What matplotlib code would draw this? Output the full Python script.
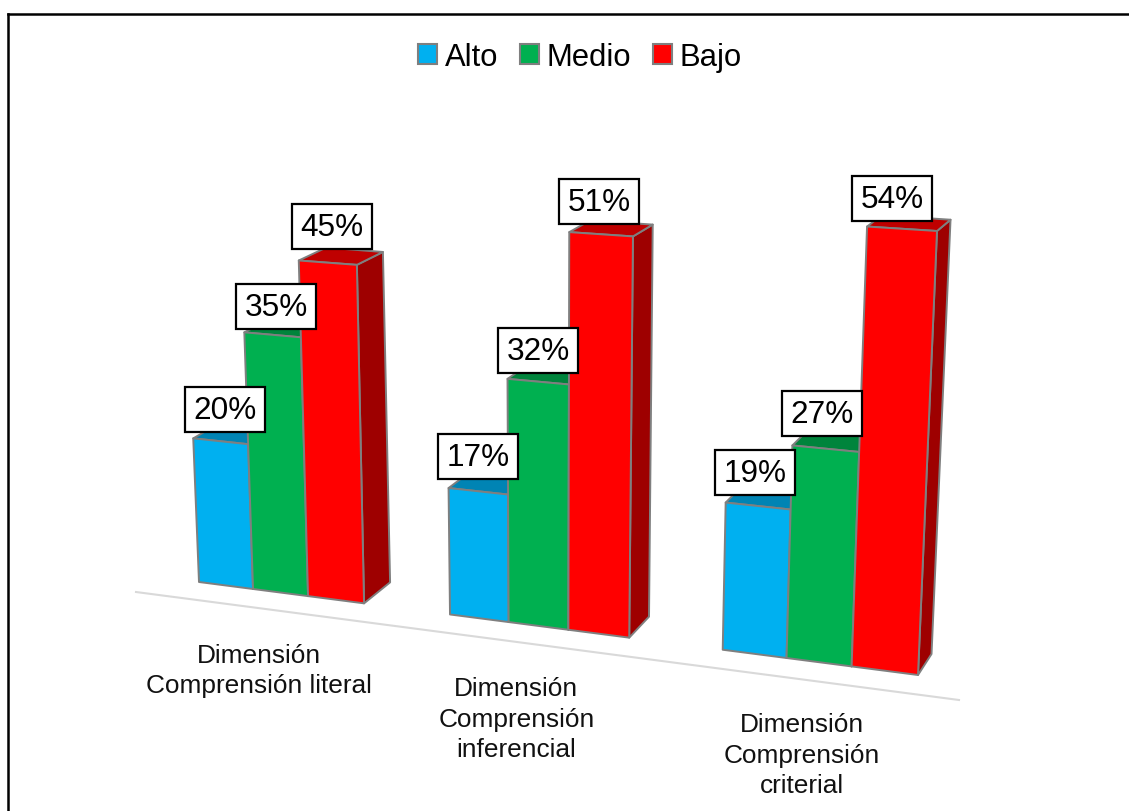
import matplotlib
matplotlib.use("Agg")
import matplotlib.pyplot as plt
from matplotlib.patches import Patch, Polygon, Rectangle
import numpy as np

categories = [
    "Dimensión\nComprensión literal",
    "Dimensión\nComprensión\ninferencial",
    "Dimensión\nComprensión\ncriterial",
]
series_names = ["Alto", "Medio", "Bajo"]
alto = [20, 17, 19]
medio = [35, 32, 27]
bajo = [45, 51, 54]

front_colors = ["#00B0F0", "#00B050", "#FF0000"]
top_colors = ["#0084B4", "#00843C", "#BF0000"]
side_colors = ["#005A7A", "#005A28", "#9E0000"]
edge_color = "#7F7F7F"

W, H = 1129, 812
group_start = [0, 4.5, 9]  # bar width is 1, gap between groups 1.5
label_dx = [[4, 4, 4], [0, 0, -2], [-3, -4, -10]]
label_dy = [[-32, -28, -36], [-35, -31, -33], [-34, -35, -30]]
cat_dx = [-21, -22, -17]

# front plane (u, value) -> pixels, fixed by the four corners of the bar block
plane = [(0, 0), (12, 0), (12, 54), (0, 54)]
pixels = [(199, 583), (918, 676), (937, 232), (183, 184)]


def fit_homography(src, dst):
    A, b = [], []
    for (u, v), (x, y) in zip(src, dst):
        A.append([u, v, 1, 0, 0, 0, -u * x, -v * x])
        A.append([0, 0, 0, u, v, 1, -u * y, -v * y])
        b += [x, y]
    return np.append(np.linalg.solve(np.array(A, float), np.array(b, float)), 1).reshape(3, 3)


M = fit_homography(plane, pixels)


def project(u, v, d=0):
    p = M @ np.array([u, v, 1.0])
    x, y = p[0] / p[2], p[1] / p[2]
    # depth of the bars, the side faces get narrower to the right
    return x + d * (30.2 - 1.39 * u), y + d * (-21 + 0.18 * v)


fig = plt.figure(figsize=(W / 100, H / 100), dpi=100)
plt.rcParams["font.family"] = ["Liberation Sans", "DejaVu Sans"]
ax = fig.add_axes([0, 0, 1, 1])
ax.set_xlim(0, W)
ax.set_ylim(H, 0)
ax.axis("off")

# only the top and left of the frame are inside the picture
ax.plot([8, 8], [H, 15], color="black", lw=1.8, solid_capstyle="projecting")
ax.plot([8, W], [15, 15], color="black", lw=1.8, solid_capstyle="projecting")

# category axis
ax.plot([136, 959], [593, 701], color="#D9D9D9", lw=1.5)

values = [alto, medio, bajo]
for g in range(len(categories)):
    for s in range(len(series_names)):
        v = values[s][g]
        u0 = group_start[g] + s
        u1 = u0 + 1
        faces = [
            ([project(u1, 0), project(u1, v), project(u1, v, 1), project(u1, 0, 1)], side_colors[s]),
            ([project(u0, v), project(u1, v), project(u1, v, 1), project(u0, v, 1)], top_colors[s]),
            ([project(u0, 0), project(u1, 0), project(u1, v), project(u0, v)], front_colors[s]),
        ]
        for pts, c in faces:
            ax.add_patch(Polygon(pts, closed=True, facecolor=c, edgecolor=edge_color, lw=1.4, joinstyle="round"))

# data labels after all bars, they sit on top
for g in range(len(categories)):
    for s in range(len(series_names)):
        v = values[s][g]
        u = group_start[g] + s + 0.5
        x, y = project(u, v)
        x += label_dx[g][s]
        y += label_dy[g][s]
        ax.add_patch(Rectangle((x - 40, y - 22.5), 80, 45, facecolor="white", edgecolor="black", lw=1.6, zorder=5))
        ax.text(x, y + 0.5, f"{v}%", fontsize=22.7, ha="center", va="center", color="black", zorder=6)

for g, cat in enumerate(categories):
    x, y = project(group_start[g] + 1.5, 0)
    ax.text(x + cat_dx[g], y + 50, cat, fontsize=18.9, ha="center", va="top", color="#111111",
            linespacing=1.35, multialignment="center")

handles = [Patch(facecolor=c, edgecolor=edge_color, lw=1.5) for c in front_colors]
ax.legend(handles, series_names, ncol=3, frameon=False, fontsize=22.3,
          loc="center", bbox_to_anchor=(580 / W, 1 - 58 / H),
          handlelength=0.6, handleheight=0.6, handletextpad=0.25, columnspacing=0.72, borderpad=0, borderaxespad=0)

plt.savefig("out.png", dpi=100)
plt.close()
